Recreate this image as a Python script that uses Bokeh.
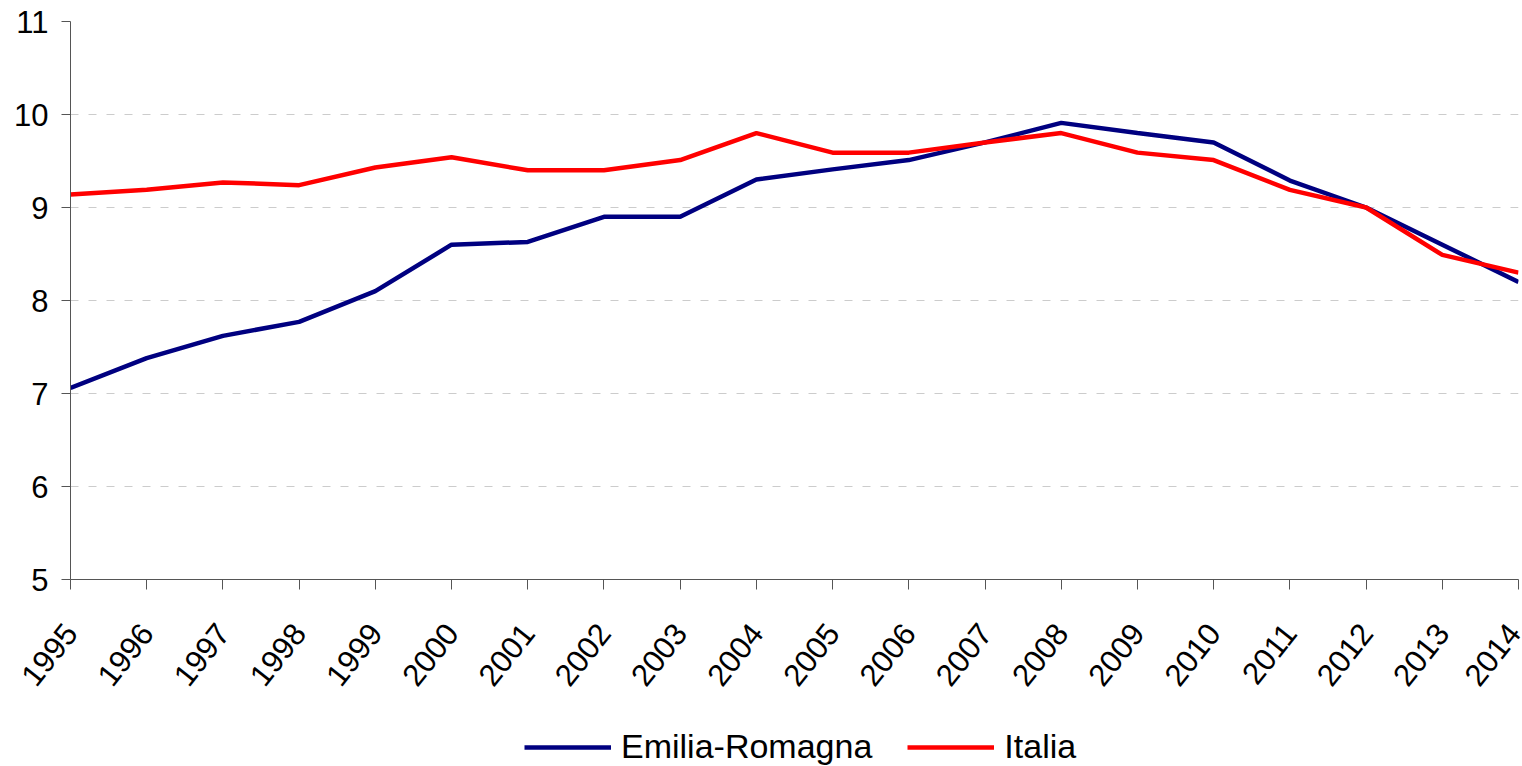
from bokeh.plotting import figure
from bokeh.layouts import column
from bokeh.models import Range1d, FixedTicker, Legend, LegendItem
from bokeh.embed import file_html
from bokeh.resources import INLINE

# Annual values, 1995-2014
years = list(range(1995, 2015))
emilia_romagna = [7.06, 7.38, 7.62, 7.77, 8.10, 8.60, 8.63, 8.90, 8.90, 9.30,
                  9.41, 9.51, 9.70, 9.91, 9.80, 9.70, 9.29, 9.00, 8.60, 8.20]
italia = [9.14, 9.19, 9.27, 9.24, 9.43, 9.54, 9.40, 9.40, 9.51, 9.80,
          9.59, 9.59, 9.70, 9.80, 9.59, 9.51, 9.19, 9.00, 8.49, 8.30]
y_ticks = [5, 6, 7, 8, 9, 10, 11]
series_names = ["Emilia-Romagna", "Italia"]
series_colors = ["#000080", "#ff0000"]

FONT = "Liberation Sans"

p = figure(frame_width=1448, frame_height=558, output_backend="svg",
           toolbar_location=None,
           x_range=Range1d(1995, 2014), y_range=Range1d(5, 11),
           min_border_left=70, min_border_right=4, min_border_top=21,
           min_border_bottom=125)
p.outline_line_color = None
p.background_fill_color = "white"
p.border_fill_color = "white"

for vals, col in zip([emilia_romagna, italia], series_colors):
    p.line(years, vals, line_color=col, line_width=4.5)

# axes
p.xaxis.ticker = FixedTicker(ticks=years)
p.yaxis.ticker = FixedTicker(ticks=y_ticks)
for ax in (p.xaxis[0], p.yaxis[0]):
    ax.axis_line_color = "#555555"
    ax.axis_line_width = 1
    ax.major_tick_line_color = "#555555"
    ax.minor_tick_line_color = None
    ax.major_tick_in = 0
    ax.major_label_text_font = FONT
    ax.major_label_text_font_size = "31px"
    ax.major_label_text_color = "black"
p.xaxis.major_tick_out = 10
p.yaxis.major_tick_out = 9
p.xaxis.major_label_orientation = 0.9
p.xaxis.major_label_standoff = 38
p.yaxis.major_label_standoff = 13

p.xgrid.grid_line_color = None
p.ygrid.grid_line_color = "#cccccc"
p.ygrid.grid_line_dash = "8 10"
p.ygrid.grid_line_width = 1

# legend strip under the chart; its lines reuse the series but stay outside
# the strip's visible range, so only the legend entries show
leg = figure(width=1522, height=62, output_backend="svg", toolbar_location=None,
             x_range=Range1d(0, 1), y_range=Range1d(0, 1),
             x_axis_location=None, y_axis_location=None, min_border=0)
leg.grid.visible = False
leg.outline_line_color = None
leg.border_fill_color = "white"

items = []
for name, vals, col in zip(series_names, [emilia_romagna, italia], series_colors):
    r = leg.line(years, vals, line_color=col, line_width=4.5)
    items.append(LegendItem(label=name, renderers=[r]))

legend = Legend(items=items, orientation="horizontal", location=(454, 0),
                border_line_color=None, background_fill_alpha=0,
                label_text_font=FONT, label_text_font_size="34px",
                label_text_color="black",
                glyph_width=87, glyph_height=34, label_standoff=10,
                spacing=35, margin=0, padding=4)
leg.add_layout(legend, "center")

layout = column(p, leg, spacing=0)
open("out.html", "w").write(file_html(layout, INLINE))
